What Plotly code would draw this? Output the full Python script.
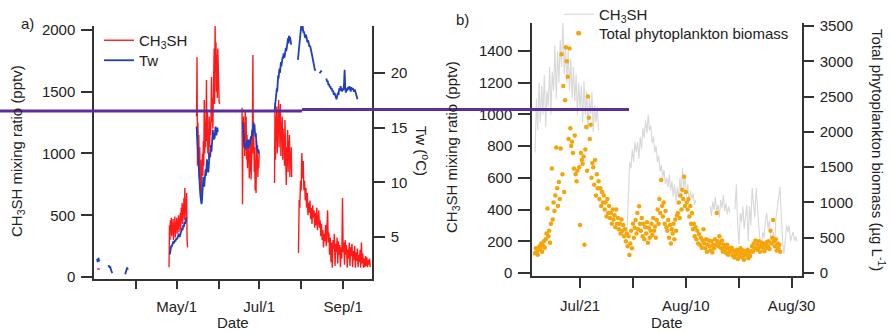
import pandas as pd
import plotly.graph_objects as go

W, H = 891, 333

# ---------------- Panel a data ----------------
# CH3SH (pptv) segments: (start, step hours, values)
a_red_s0 = ("2015-03-03 06:00", 24, [65, 65, 65])
a_red_s1 = ("2015-04-25 10:00", 8, [80, 420, 300, 460, 350, 480, 330, 440, 380, 470, 300, 420, 360, 490,
                                     320, 440, 400, 480, 350, 460, 390, 500, 360, 470, 420, 520, 380, 560,
                                     450, 600, 430, 580, 500, 640, 460, 720, 520, 600, 450, 680, 300, 240])
a_red_s2 = ("2015-05-15 18:00", 8, [1300, 1780, 900, 1250, 950,
                                     1150, 800, 1050, 700, 950, 650, 900, 750, 1000,
                                     820, 1100, 900, 1433, 1000, 1250,
                                     1050, 1300, 1595, 1100, 1350, 1000,
                                     1200, 950, 1300, 1050, 1250, 1150,
                                     1300, 1620, 1250, 1450, 1200, 1500,
                                     1550, 1850, 1400, 2040, 1650, 1900,
                                     1500, 1800, 1450, 1850, 1600, 1700, 1420, 1400])
a_red_s3 = ("2015-06-18 08:00", 8, [1370, 590, 1200, 1300, 1050, 1250, 980, 1350, 1100, 1300, 950, 1150,
                                     880, 1050, 920, 1100, 800, 1000, 850, 1130, 790, 1000, 900, 1190,
                                     1797, 1000, 1150, 850, 1050, 700, 950, 680, 1100, 900, 1000, 810,
                                     950, 880, 1000])
a_red_s4 = ("2015-07-12 08:00", 8, [761, 1409, 950, 1300, 1100, 1380, 1000, 1270, 1150, 1433, 1050, 1350,
                                     1200, 1400, 980, 1250, 1100, 1300, 950, 1200, 1050, 1150, 900, 1270,
                                     1000, 1100, 745, 1050, 900, 1190, 850, 1100, 950, 1150, 810, 1000,
                                     900, 1050, 810])
a_red_s5 = ("2015-07-30 00:00", 12, [194, 623, 560, 780, 700, 1004, 800, 940, 700, 780, 620, 720, 560, 680,
                                      500, 600, 520, 620, 470, 560, 430, 580, 480, 540, 400, 520, 420, 560,
                                      380, 500, 540, 400, 460, 330, 430, 300, 380, 240, 350, 290, 420, 250,
                                      390, 540, 280, 360, 180, 320, 120, 280, 75, 300, 230, 350, 90, 270,
                                      200, 320, 110, 290, 180, 260, 80, 240, 150, 640, 200, 280, 100, 300,
                                      180, 260, 75, 220, 150, 280, 90, 240, 170, 270, 80, 210, 140, 250,
                                      75, 200, 130, 230, 80, 180, 120, 220, 75, 280, 110, 190, 75, 150,
                                      80, 170, 90, 160, 80, 140, 100, 150, 80])

# Water temperature Tw (degC) segments
a_tw_s0 = ("2015-03-03 06:00", 12, [3.0, 2.7, 3.1, 2.8, 2.9])
a_tw_s1 = ("2015-03-11 12:00", 12, [2.3, 2.4, 2.2, 2.3, 2.0, 1.8, 1.7])
a_tw_s2 = ("2015-03-24 00:00", 12, [1.6, 1.9, 2.1, 2.2, 2.0])
a_tw_s3 = ("2015-04-26 00:00", 8, [3.4, 3.8, 4.0, 4.2, 4.1, 4.3, 4.5, 4.4, 4.6, 4.4, 4.5, 4.7, 4.6, 4.8,
                                   4.7, 4.9, 4.8, 5.0, 5.2, 5.1, 5.3, 5.1, 5.0, 5.2, 5.4, 5.3, 5.6, 5.8,
                                   5.6, 5.9, 6.1, 5.9, 6.2, 6.4, 6.2, 6.5, 6.7, 6.8])
a_tw_s4 = ("2015-05-15 18:00", 8, [15.1, 14.2, 13.0, 12.2, 11.8, 11.0, 10.2, 9.6, 9.0, 8.6, 8.2, 8.0,
                                   8.4, 9.0, 9.8, 10.5, 10.0, 9.6, 10.2, 10.8, 11.2, 10.6, 11.5, 12.1,
                                   11.6, 11.0, 10.9, 11.5, 12.2, 12.7, 12.3, 13.0, 13.4, 12.8, 13.6, 14.2,
                                   14.8, 14.1, 13.9, 14.5, 14.0, 14.6, 15.1, 14.7, 14.3, 14.8, 15.0, 14.6])
a_tw_s5 = ("2015-06-18 20:00", 8, [15.5, 15.0, 14.3, 13.6, 13.2, 13.6, 13.0, 13.4, 13.3, 13.8, 13.2, 13.9,
                                   13.5, 13.1, 13.6, 13.9, 13.4, 13.8, 14.2, 13.9, 14.4, 14.8, 14.3, 15.0,
                                   15.5, 14.9, 15.3, 14.6, 14.2, 14.5, 13.7, 13.0, 13.4, 12.9, 12.7, 13.0, 12.6])
a_tw_s6 = ("2015-07-12 08:00", 8, [16.5, 17.0, 16.8, 17.5, 17.9, 18.6, 18.3, 19.2, 19.8, 19.5, 20.1, 20.4,
                                   20.0, 20.7, 21.0, 20.6, 21.2, 21.0, 21.5, 21.3, 21.8, 21.6, 21.4, 22.0,
                                   21.7, 22.3, 22.0, 22.6, 22.4, 22.9, 23.2, 22.7, 23.4, 23.0, 23.3, 22.8,
                                   23.1, 22.6])
a_tw_s7 = ("2015-07-29 14:00", 12, [21.2, 22.0, 22.6, 23.5, 24.2, 24.4, 23.9, 24.3, 23.7, 23.8, 23.4, 23.2,
                                    23.5, 23.1, 22.8, 23.0, 22.6, 22.4, 22.5, 22.0, 21.9, 21.6, 21.2, 20.9,
                                    20.5, 20.3, 20.2, None, None, None, None, None, 20.1, 20.0, 20.2, 20.1,
                                    None, None, None, None, None, None, 19.5, 19.2, 19.3, 18.9, 19.0, 18.7,
                                    18.8, 18.5, 18.6, 18.3, 18.4, 18.0, 18.2, 17.9, 17.8, 17.6, 17.9, 18.2,
                                    18.0, 18.6, 18.4, 18.8, 18.5, 18.3, 18.6, 18.4, 18.9, 20.3, 18.5, 18.2,
                                    18.6, 18.4, 18.7, 18.5, 18.8, 18.6, 18.3, 18.7, 18.5, 18.6, 18.4, 18.3,
                                    18.5, 18.2, 18.0, 17.8, 17.6])

# ---------------- Panel b data ----------------
# CH3SH (pptv), grey line
b_ch3sh_s1 = ("2015-07-12 12:00", 6, [760, 1100, 900, 1200, 950, 1180, 1000, 1250, 920, 1150, 1050, 1300,
                                      1000, 1270, 1150, 1440, 1100, 1400, 1200, 1470, 1300, 1585, 1250, 1430,
                                      1200, 1400, 1150, 1350, 1100, 1300, 1080, 1250, 1000, 1200, 1040, 1180,
                                      950, 1210, 1000, 1150, 900, 1100, 1000, 1140, 890, 1060, 950, 1050, 900])
b_ch3sh_s2 = ("2015-07-29 21:00", 6, [252, 500, 700, 660, 780, 700, 830, 760, 826, 720, 860, 780, 914, 850,
                                      960, 880, 996, 900, 930, 820, 860, 760, 800, 700, 740, 640, 680, 600,
                                      650, 560, 600, 540, 620, 520, 580, 480, 560, 450, 540, 470, 600, 500,
                                      662, 540, 600, 480, 560, 450, 520, 470, 500, 430, 460])
b_ch3sh_s3 = ("2015-08-14 14:00", 6, [420, 360, 450, 400, 480, 380, 430, 350, 460, 410, 491, 390, 440, 370,
                                      420, 380])
b_ch3sh_s4 = ("2015-08-19 07:00", 6, [400, 560, 300, 180, 380, 320, 420, 280, 360, 429, 200, 420, 300, 536,
                                      440, 350, 536, 380, 300, 200, 158, 260, 220, 330, 380, 280, 330, 230,
                                      200, 260, 180, 350, 430, 480, 542, 360, 200, 120, 230, 300, 260, 300,
                                      200, 240, 260, 200, 230, 200])

# Total phytoplankton biomass (ug/L), orange dots, every 4 h
b_bio_start = "2015-07-12 12:00"
b_bio = [280, 350, 300, 260, 330, 380,
         340, 420, 300, 390, 450, 360,
         480, 560, 916, 520, 600, 430,
         700, 1483, 760, 1000, 880, 1100,
         1780, 1200, 950, 1290, 1050, 1766,
         3100, 1400, 2650, 1150, 2450, 3200,
         3000, 2780, 1900, 3180, 2050, 1800,
         1861, 1700, 1480, 1950, 1400, 1300,
         1450, 3400, 1500, 680, 1700, 1600,
         1550, 1650, 400, 1750, 2070, 1450,
         2500, 2200, 1900, 2100, 1350, 1560,
         1500, 1250, 1600, 1100, 1400, 1200,
         1300, 1050, 1200, 950, 1150, 1000,
         1100, 900, 1000, 800, 1050, 850,
         950, 780, 850, 700, 900, 760,
         820, 650, 900, 700, 780, 620,
         700, 560, 760, 600, 680, 520,
         620, 450, 560, 380, 520, 255,
         420, 600, 350, 700, 500, 640,
         750, 560, 850, 620, 945, 700,
         600, 780, 520, 700, 480, 650,
         560, 720, 430, 640, 500, 600,
         700, 540, 780, 600, 660, 500,
         750, 900, 700, 1050, 850, 1318,
         950, 800, 1000, 700, 880, 650,
         600, 750, 500, 680, 420, 620,
         560, 700, 480, 760, 600, 820,
         850, 1000, 780, 1100, 900, 1180,
         1050, 1365, 950, 1150, 1000, 900,
         1050, 800, 950, 700, 850, 620,
         700, 520, 650, 480, 600, 420,
         550, 400, 500, 360, 460, 620,
         420, 350, 480, 300, 400, 460,
         380, 320, 450, 290, 400, 350,
         480, 400, 850, 450, 380, 520,
         420, 350, 460, 300, 400, 360,
         330, 280, 400, 260, 350, 300,
         300, 360, 250, 320, 220, 280,
         260, 330, 200, 300, 240, 350,
         280, 220, 320, 190, 260, 300,
         250, 330, 210, 290, 240, 310,
         380, 300, 420, 350, 460, 330,
         400, 340, 450, 300, 380, 430,
         360, 420, 310, 400, 350, 440,
         380, 450, 340, 600, 420, 500,
         751, 450, 380, 480, 320, 420,
         350, 400, 300]

# Tick labels (labelled major ticks and unlabelled minor ticks)
a_tickdates = ["2015-05-01", "2015-07-01", "2015-09-01"]
a_ticktext = ["May/1", "Jul/1", "Sep/1"]
a_minordates = ["2015-04-01", "2015-06-01", "2015-08-01"]
b_tickdates = ["2015-07-21", "2015-08-10", "2015-08-30"]
b_ticktext = ["Jul/21", "Aug/10", "Aug/30"]
b_minordates = ["2015-07-31", "2015-08-20"]


def build(segments):
    xs, ys = [], []
    for start, step, vals in segments:
        t = pd.date_range(start, periods=len(vals), freq=f"{step}h")
        xs += list(t)
        ys += list(vals)
        xs.append(t[-1] + pd.Timedelta(minutes=30))
        ys.append(None)
    return xs, ys


def px(x):
    return x / W


def py(y):
    return (H - y) / H


FONT = "Liberation Sans, Arial, sans-serif"
TXT = "#222222"
AX = "#333333"

fig = go.Figure()

x, y = build([a_red_s0, a_red_s1, a_red_s2, a_red_s3, a_red_s4, a_red_s5])
fig.add_trace(go.Scatter(x=x, y=y, mode="lines", name="CH<sub>3</sub>SH", line=dict(color="#ff1a1a", width=1.4),
                         xaxis="x", yaxis="y", legend="legend", connectgaps=False))
x, y = build([a_tw_s0, a_tw_s1, a_tw_s2, a_tw_s3, a_tw_s4, a_tw_s5, a_tw_s6, a_tw_s7])
fig.add_trace(go.Scatter(x=x, y=y, mode="lines", name="Tw", line=dict(color="#1f3fbf", width=1.8),
                         xaxis="x", yaxis="y2", legend="legend2", connectgaps=False))

x, y = build([b_ch3sh_s1, b_ch3sh_s2, b_ch3sh_s3, b_ch3sh_s4])
fig.add_trace(go.Scatter(x=x, y=y, mode="lines", name="CH<sub>3</sub>SH", line=dict(color="#d8d8d8", width=1.1),
                         xaxis="x2", yaxis="y3", legend="legend3", connectgaps=False))
bx = pd.date_range(b_bio_start, periods=len(b_bio), freq="4h")
fig.add_trace(go.Scatter(x=list(bx), y=b_bio, mode="markers", name="Total phytoplankton biomass",
                         marker=dict(color="#f5a50a", size=4.5), xaxis="x2", yaxis="y4", legend="legend4"))

common = dict(showgrid=False, zeroline=False, showline=True, linecolor=AX, linewidth=1.5,
              ticks="outside", tickcolor=AX, tickwidth=1.5, automargin=False,
              tickfont=dict(family=FONT, size=15, color=TXT))
xcommon = dict(common, ticklabelstandoff=5)
ycommon = dict(common, ticklabelstandoff=3)


def leg(x, y):
    return dict(x=px(x), y=py(y), xanchor="left", yanchor="top", bgcolor="rgba(0,0,0,0)",
                font=dict(family=FONT, size=15, color=TXT), itemwidth=30, borderwidth=0)


fig.update_layout(
    width=W, height=H, margin=dict(l=0, r=0, t=0, b=0, autoexpand=False),
    paper_bgcolor="white", plot_bgcolor="white",
    font=dict(family=FONT, size=15, color=TXT),
    xaxis=dict(domain=[px(94), px(372)], anchor="y", type="date",
               range=["2015-03-01", "2015-09-22 07:00"], tickvals=a_tickdates, ticktext=a_ticktext,
               ticklen=8, minor=dict(tickvals=a_minordates, ticklen=8, tickwidth=1.5, tickcolor=AX,
                                     ticks="outside", showgrid=False), **xcommon),
    yaxis=dict(domain=[py(279), py(26)], anchor="x", range=[-16, 2032],
               tickvals=[0, 500, 1000, 1500, 2000], ticklen=11, **ycommon),
    yaxis2=dict(overlaying="y", side="right", anchor="x", range=[1.16, 24.3],
                tickvals=[5, 10, 15, 20], ticklen=11, **ycommon),
    xaxis2=dict(domain=[px(532), px(802)], anchor="y3", type="date",
                range=["2015-07-11 22:00", "2015-08-31 23:00"], tickvals=b_tickdates, ticktext=b_ticktext,
                ticklen=10, minor=dict(tickvals=b_minordates, ticklen=10, tickwidth=1.5, tickcolor=AX,
                                       ticks="outside", showgrid=False), **xcommon),
    yaxis3=dict(domain=[py(276), py(23)], anchor="x2", range=[-19, 1577],
                tickvals=[0, 200, 400, 600, 800, 1000, 1200, 1400], ticklen=12, **ycommon),
    yaxis4=dict(overlaying="y3", side="right", anchor="x2", range=[-42, 3543],
                tickvals=[0, 500, 1000, 1500, 2000, 2500, 3000, 3500], ticklen=10, **ycommon),
    legend=leg(99, 24),
    legend2=leg(99, 44),
    legend3=leg(559, -2),
    legend4=leg(559, 17),
    showlegend=True,
)

ann = [
    dict(text="a)", x=px(27), y=py(23)),
    dict(text="b)", x=px(462), y=py(20)),
    dict(text="CH<sub>3</sub>SH mixing ratio (pptv)", x=px(17), y=py(151), textangle=-90),
    dict(text="Tw (<sup>o</sup>C)", x=px(423), y=py(151), textangle=90),
    dict(text="CH<sub>3</sub>SH mixing ratio (pptv)", x=px(452), y=py(147), textangle=-90),
    dict(text="Total phytoplankton biomass (µg L<sup>-1</sup>)", x=px(878), y=py(150), textangle=90),
]
for a in ann:
    fig.add_annotation(xref="paper", yref="paper", xanchor="center", yanchor="middle", showarrow=False,
                       font=dict(family=FONT, size=15, color=TXT), **a)
for xc in (233, 667):
    fig.add_annotation(xref="paper", yref="paper", x=px(xc), y=0, xanchor="center", yanchor="bottom",
                       showarrow=False, text="Date", font=dict(family=FONT, size=15, color=TXT))

# purple overlay strokes present on the reference image
fig.add_shape(type="line", xref="paper", yref="paper", x0=px(0), x1=px(302), y0=py(111), y1=py(111),
              line=dict(color="#5b2e9b", width=3), layer="above")
fig.add_shape(type="line", xref="paper", yref="paper", x0=px(302), x1=px(629), y0=py(109.5), y1=py(109.5),
              line=dict(color="#5b2e9b", width=3), layer="above")

# remove the page's default body margin so the figure sits at the window's top-left corner
fig.write_html("out.html", config={"displayModeBar": False},
               post_script="document.body.style.margin='0px';")
